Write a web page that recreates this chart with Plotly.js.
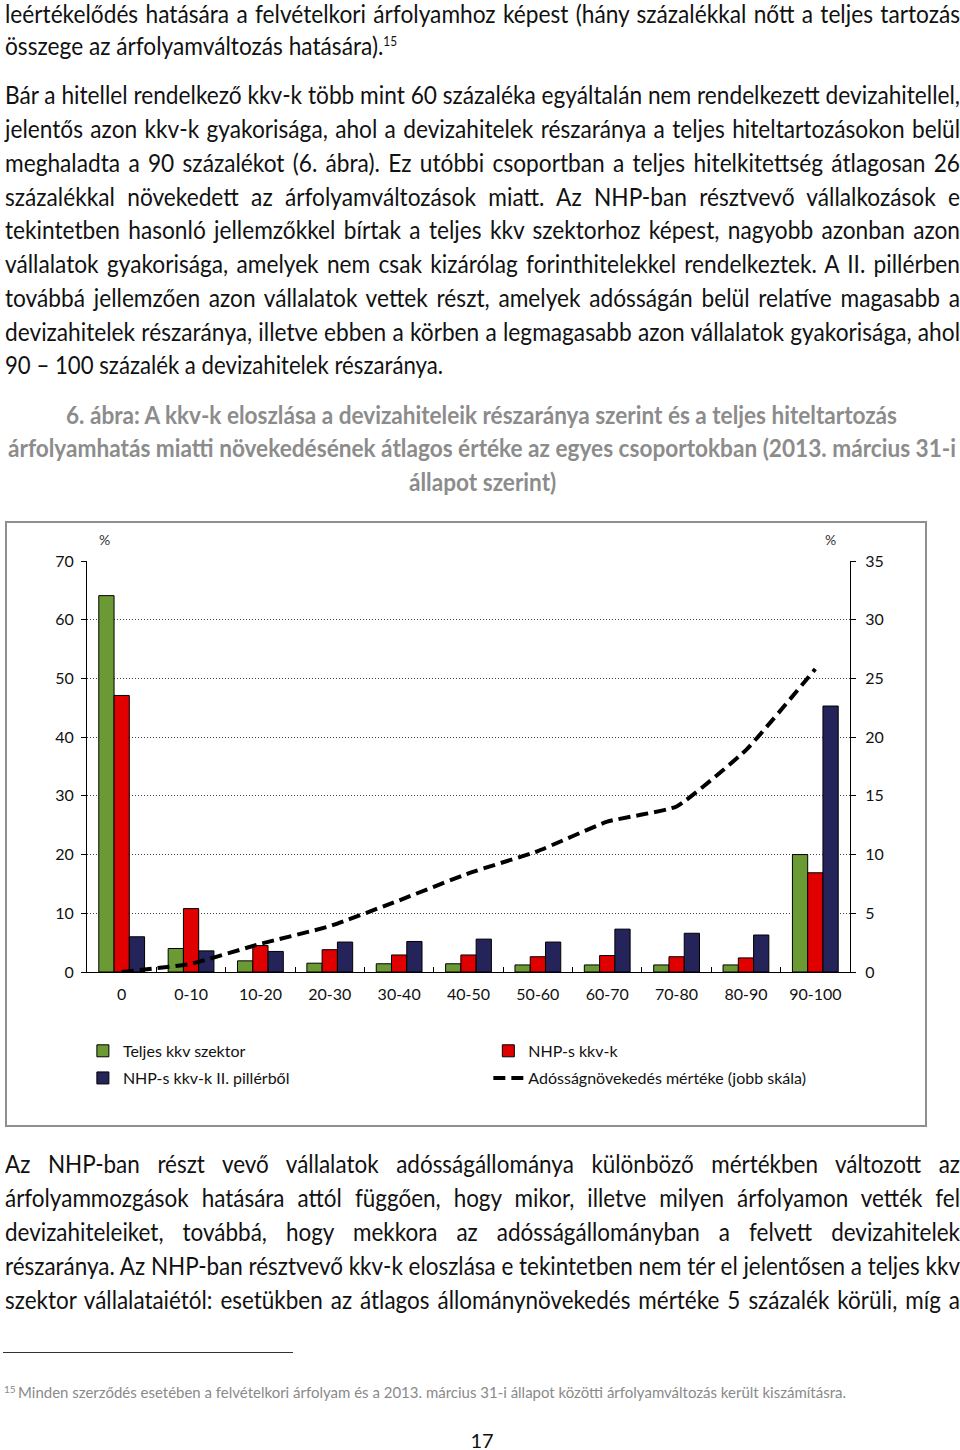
<!DOCTYPE html>
<html>
<head>
<meta charset="utf-8">
<script src="https://cdn.plot.ly/plotly-3.0.1.min.js"></script>
<style>
  html, body { margin:0; padding:0; background:#fff; }
  body { width:960px; height:1450px; position:relative; overflow:hidden; font-family: Lato, "Open Sans", sans-serif; color:#111; }
  .ln { position:absolute; white-space:nowrap; font-size:25px; line-height:30px; height:30px; }
  .ln > span { display:inline-block; transform-origin:0 50%; }
  .cap { font-weight:700; color:#8c8c8c; }
  .fn { font-size:16px; line-height:20px; height:20px; color:#8a8a8a; }
  sup { font-size:13px; vertical-align: 9px; line-height:0; }
  #box { position:absolute; left:5px; top:521px; width:922px; height:606px; border:2px solid #8f8f8f; box-sizing:border-box; }
  #chart { position:absolute; left:0; top:0; width:918px; height:602px; }
  #rule { position:absolute; left:3px; top:1352px; width:290px; height:0; border-top:1.5px solid #333; }
  #pg { position:absolute; left:0; width:964px; top:1432px; height:16px; text-align:center; font-size:20px; line-height:16px; }
</style>
</head>
<body>
<div class="ln" data-g="a" data-ref="1" data-l="5" data-w="955" data-c="13" data-m="j"><span>leértékelődés hatására a felvételkori árfolyamhoz képest (hány százalékkal nőtt a teljes tartozás</span></div>
<div class="ln" data-g="a" data-l="5" data-w="395" data-c="45" data-m="l"><span>összege az árfolyamváltozás hatására).<sup>15</sup></span></div>

<div class="ln" data-g="a" data-ref="1" data-l="5" data-w="955" data-c="94" data-m="j"><span>Bár a hitellel rendelkező kkv-k több mint 60 százaléka egyáltalán nem rendelkezett devizahitellel,</span></div>
<div class="ln" data-g="a" data-l="5" data-w="955" data-c="128" data-m="j"><span>jelentős azon kkv-k gyakorisága, ahol a devizahitelek részaránya a teljes hiteltartozásokon belül</span></div>
<div class="ln" data-g="a" data-l="5" data-w="955" data-c="162" data-m="j"><span>meghaladta a 90 százalékot (6. ábra). Ez utóbbi csoportban a teljes hitelkitettség átlagosan 26</span></div>
<div class="ln" data-g="a" data-l="5" data-w="955" data-c="196" data-m="j"><span>százalékkal növekedett az árfolyamváltozások miatt. Az NHP-ban résztvevő vállalkozások e</span></div>
<div class="ln" data-g="a" data-l="5" data-w="955" data-c="229" data-m="j"><span>tekintetben hasonló jellemzőkkel bírtak a teljes kkv szektorhoz képest, nagyobb azonban azon</span></div>
<div class="ln" data-g="a" data-l="5" data-w="955" data-c="263" data-m="j"><span>vállalatok gyakorisága, amelyek nem csak kizárólag forinthitelekkel rendelkeztek. A II. pillérben</span></div>
<div class="ln" data-g="a" data-l="5" data-w="955" data-c="297" data-m="j"><span>továbbá jellemzően azon vállalatok vettek részt, amelyek adósságán belül relatíve magasabb a</span></div>
<div class="ln" data-g="a" data-l="5" data-w="955" data-c="331" data-m="j"><span>devizahitelek részaránya, illetve ebben a körben a legmagasabb azon vállalatok gyakorisága, ahol</span></div>
<div class="ln" data-g="a" data-l="5" data-w="438" data-c="364" data-m="l"><span>90 – 100 százalék a devizahitelek részaránya.</span></div>

<div class="ln cap" data-g="c" data-l="66" data-w="831" data-c="414" data-m="c"><span>6. ábra: A kkv-k eloszlása a devizahiteleik részaránya szerint és a teljes hiteltartozás</span></div>
<div class="ln cap" data-g="c" data-ref="1" data-l="8" data-w="948" data-c="447" data-m="j"><span>árfolyamhatás miatti növekedésének átlagos értéke az egyes csoportokban (2013. március 31-i</span></div>
<div class="ln cap" data-g="c" data-l="408" data-w="149" data-c="481" data-m="c"><span>állapot szerint)</span></div>

<div id="box"><div id="chart"></div></div>

<div class="ln" data-g="b" data-l="5" data-w="955" data-c="1163" data-m="j"><span>Az NHP-ban részt vevő vállalatok adósságállománya különböző mértékben változott az</span></div>
<div class="ln" data-g="b" data-l="5" data-w="955" data-c="1197" data-m="j"><span>árfolyammozgások hatására attól függően, hogy mikor, illetve milyen árfolyamon vették fel</span></div>
<div class="ln" data-g="b" data-l="5" data-w="955" data-c="1231" data-m="j"><span>devizahiteleiket, továbbá, hogy mekkora az adósságállományban a felvett devizahitelek</span></div>
<div class="ln" data-g="b" data-ref="1" data-l="5" data-w="955" data-c="1265" data-m="j"><span>részaránya. Az NHP-ban résztvevő kkv-k eloszlása e tekintetben nem tér el jelentősen a teljes kkv</span></div>
<div class="ln" data-g="b" data-l="5" data-w="955" data-c="1299" data-m="j"><span>szektor vállalataiétól: esetükben az átlagos állománynövekedés mértéke 5 százalék körüli, míg a</span></div>

<div id="rule"></div>
<div class="ln fn" style="left:4px;top:1379px;font-size:10px;">15</div>
<div class="ln fn" data-g="f" data-ref="1" data-l="18" data-w="828" data-c="1392" data-m="j"><span>Minden szerződés esetében a felvételkori árfolyam és a 2013. március 31-i állapot közötti árfolyamváltozás került kiszámításra.</span></div>
<div id="pg">17</div>

<script>
// ---- Data ----
const categories = ['0','0-10','10-20','20-30','30-40','40-50','50-60','60-70','70-80','80-90','90-100'];
const teljesKkv   = [64.1, 4.0, 1.9, 1.5, 1.4, 1.4, 1.2, 1.2, 1.2, 1.2, 20.0];
const nhpKkv      = [47.1, 10.8, 4.5, 3.8, 2.9, 2.9, 2.6, 2.8, 2.6, 2.4, 16.9];
const nhpPiller2  = [6.0, 3.6, 3.5, 5.1, 5.2, 5.6, 5.1, 7.3, 6.6, 6.3, 45.3];
const adossagNov  = [0, 0.7, 2.4, 3.9, 6.1, 8.4, 10.3, 12.8, 14.1, 18.9, 25.8];
const seriesNames = ['Teljes kkv szektor', 'NHP-s kkv-k', 'NHP-s kkv-k II. pillérből', 'Adósságnövekedés mértéke (jobb skála)'];
const leftTicks  = [0, 10, 20, 30, 40, 50, 60, 70];
const rightTicks = [0, 5, 10, 15, 20, 25, 30, 35];

// ---- text fitting ----
function fitLines() {
  const els = Array.from(document.querySelectorAll('.ln[data-m]'));
  const nat = new Map();
  els.forEach(el => {
    const sp = el.firstElementChild;
    sp.style.wordSpacing = '0px';
    sp.style.transform = 'none';
    nat.set(el, sp.getBoundingClientRect().width);
  });
  const groupScale = {};
  els.forEach(el => {
    if (el.dataset.ref) {
      const s = (+el.dataset.w) / nat.get(el);
      const g = el.dataset.g;
      groupScale[g] = (g in groupScale) ? Math.min(groupScale[g], s) : s;
    }
  });
  els.forEach(el => {
    const l = +el.dataset.l, w = +el.dataset.w, c = +el.dataset.c, m = el.dataset.m;
    const h = el.classList.contains('fn') ? 20 : 30;
    const n = nat.get(el);
    let s = groupScale[el.dataset.g] || 1;
    const sp = el.firstElementChild;
    el.style.top = (c - h / 2) + 'px';
    if (n * s > w) s = w / n;
    sp.style.transform = 'scaleX(' + s + ')';
    if (m === 'j') {
      el.style.left = l + 'px';
      const spaces = (sp.textContent.match(/ /g) || []).length;
      if (spaces > 0) sp.style.wordSpacing = ((w / s - n) / spaces) + 'px';
    } else if (m === 'c') {
      el.style.left = (l + w / 2 - n * s / 2) + 'px';
    } else {
      el.style.left = l + 'px';
    }
  });
}
(document.fonts ? document.fonts.ready : Promise.resolve()).then(fitLines);
fitLines();

// ---- chart ----
const font = 'Lato, "Open Sans", sans-serif';
const barLine = {color: '#000', width: 1};
const traces = [
  {type:'bar', name: seriesNames[0], x: categories, y: teljesKkv, marker:{color:'#6b9a35', line: barLine}, legend:'legend'},
  {type:'bar', name: seriesNames[1], x: categories, y: nhpKkv, marker:{color:'#e10000', line: barLine}, legend:'legend2'},
  {type:'bar', name: seriesNames[2], x: categories, y: nhpPiller2, marker:{color:'#24235a', line: barLine}, legend:'legend3'},
  {type:'scatter', mode:'lines', name: seriesNames[3], x: categories, y: adossagNov, yaxis:'y2',
   line:{color:'#000', width:4, dash:'12px,6px', shape:'spline', smoothing:0.4}, legend:'legend4'}
];
function leg(x, y) {
  return {x:x, y:y, orientation:'v', xanchor:'left', yanchor:'middle',
    font:{family:font, size:16, color:'#111'}, bgcolor:'rgba(0,0,0,0)', itemclick:false};
}
const col1 = -0.0054, col2 = 0.526, row1 = -0.192, row2 = -0.258;
const layout = {
  width: 918, height: 602,
  margin: {l:80, r:75, t:38, b:153},
  paper_bgcolor:'#fff', plot_bgcolor:'#fff',
  barmode:'group', bargap:0.34, bargroupgap:0,
  showlegend:true,
  legend: leg(col1, row1),
  legend2: leg(col2, row1),
  legend3: leg(col1, row2),
  legend4: leg(col2, row2),
  font:{family:font, size:16, color:'#111'},
  xaxis:{type:'category', showline:true, linecolor:'#000', linewidth:1, ticks:'inside', tickson:'boundaries',
    ticklen:5, tickcolor:'#000', showgrid:false, ticklabelstandoff:8, tickfont:{family:font, size:16, color:'#111'}},
  yaxis:{range:[0,70], tickvals:leftTicks, showline:true, linecolor:'#000', linewidth:1, ticks:'outside', ticklen:5,
    tickcolor:'#000', showgrid:true, gridcolor:'#444', griddash:'1px,2px', gridwidth:1, zeroline:false,
    ticklabelstandoff:4, tickfont:{family:font, size:16, color:'#111'}},
  yaxis2:{range:[0,35], tickvals:rightTicks, overlaying:'y', side:'right', showline:true, linecolor:'#000', linewidth:1,
    ticks:'outside', ticklen:5, tickcolor:'#000', showgrid:false, zeroline:false, ticklabelstandoff:6,
    tickfont:{family:font, size:16, color:'#111'}},
  annotations:[
    {text:'%', xref:'paper', yref:'paper', x:0.0223, y:1.0535, xanchor:'center', yanchor:'middle', showarrow:false, font:{family:font, size:14, color:'#333'}},
    {text:'%', xref:'paper', yref:'paper', x:0.975, y:1.0535, xanchor:'center', yanchor:'middle', showarrow:false, font:{family:font, size:14, color:'#333'}}
  ]
};
Plotly.newPlot('chart', traces, layout, {staticPlot:true, displayModeBar:false});
</script>
</body>
</html>
